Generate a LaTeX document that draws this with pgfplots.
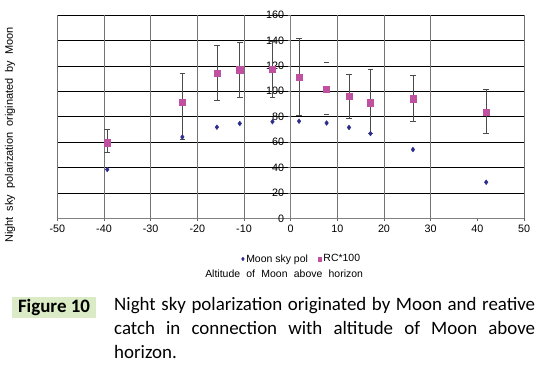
\documentclass[border=0pt]{standalone}
\usepackage{fontspec}
\setmainfont{Liberation Sans}
\newfontfamily\calibri{Carlito}
\usepackage{pgfplots}
\usepackage{pgfplotstable}
\pgfplotsset{compat=1.18}
\definecolor{moonblue}{RGB}{43,45,140}
\definecolor{rcpink}{RGB}{192,80,160}
\definecolor{figgreen}{RGB}{218,235,198}
\newcommand\wsp{\hspace{0.6em}}
\newcommand\wsy{\hspace{0.55em}}

\pgfplotstableread{
x y
-39.3 38.4
-23.2 64.0
-15.8 71.7
-10.9 74.6
-3.9 76.0
1.8 76.4
7.7 75.0
12.5 71.5
17.1 66.7
26.2 54.1
41.9 28.4
}\moontab

\pgfplotstableread{
x y ep em
-39.3 59.5 10.5 7.9
-23.2 91.4 22.4 29.1
-15.8 114.4 21.8 21.4
-10.9 117.0 21.5 21.5
-3.9 117.3 21.7 22.4
1.8 111.2 30.2 29.9
12.5 96.0 17.6 17.0
17.1 91.0 26.3 24.1
26.2 94.1 18.1 17.8
41.9 83.4 18.1 16.5
}\rctab

\pgfplotstableread{
x y ep em
7.7 101.8 20.7 20.0
}\rctabb

\begin{document}
\begin{tikzpicture}[x=1bp,y=1bp]
\useasboundingbox (0,0) rectangle (549,367);
\begin{axis}[
  at={(57.3bp,148.7bp)}, anchor=south west,
  scale only axis, width=466.7bp, height=203.3bp,
  xmin=-50, xmax=50, ymin=0, ymax=160,
  axis x line=bottom, axis y line=middle,
  axis line style={-, black!50, line width=0.6bp},
  hide obscured x ticks=false, hide obscured y ticks=false,
  xtick={-50,-40,...,50}, ytick={0,20,...,160},
  tick align=outside, major tick length=3bp,
  tick style={black!60, line width=0.6bp},
  ymajorgrids,
  major grid style={black, line width=0.6bp},
  extra x ticks={-50,-40,-30,-20,-10,10,20,30,50},
  extra x tick labels={},
  extra x tick style={grid=major, major grid style={black!55, line width=0.6bp}, major tick length=0pt},
  /pgf/number format/assume math mode=true,
  ticklabel style={font=\fontsize{10.8}{12}\selectfont, text=black},
  xlabel={Altitude\wsp of\wsp Moon\wsp above\wsp horizon},
  xlabel style={at={(axis description cs:0.486,-0.274)}, anchor=center, font=\fontsize{10.5}{12}\selectfont},
  ylabel={Night\wsy sky\wsy polarization\wsy originated\wsy by\wsy Moon},
  ylabel style={at={(axis description cs:-0.101,0.41)}, anchor=center, rotate=90, font=\fontsize{11}{12}\selectfont},
  legend style={at={(0.524,-0.2)}, anchor=center, draw=none, fill=none,
    font=\fontsize{10.5}{12}\selectfont, legend columns=2,
    /tikz/every even column/.append style={column sep=8bp}},
  legend cell align=left,
  legend image post style={mark size=1.8bp},
  clip=false,
]
\addplot[only marks, mark=diamond*, mark size=2.4bp, color=moonblue]
  table[x=x,y=y]{\moontab};
\addlegendentry{Moon sky pol}
\addplot[only marks, mark=square*, mark size=3.1bp, color=rcpink,
  error bars/.cd, y dir=both, y explicit,
  error bar style={black!70, line width=0.6bp},
  error mark options={rotate=90, mark size=2.8bp, black!70, line width=0.6bp}]
  table[x=x,y=y,y error plus=ep,y error minus=em]{\rctab};
\addlegendentry{RC*100}
\addplot[only marks, mark=square*, mark size=3.1bp, color=rcpink, forget plot,
  error bars/.cd, y dir=both, y explicit,
  error bar style={black!70, draw opacity=0},
  error mark options={rotate=90, mark size=2.8bp, black!70, draw opacity=1, line width=0.6bp}]
  table[x=x,y=y,y error plus=ep,y error minus=em]{\rctabb};
\end{axis}
\node[fill=figgreen, minimum width=83.4bp, minimum height=21.6bp, inner sep=0,
  font=\calibri\bfseries\fontsize{19}{22}\selectfont] at (54,59.5) {Figure 10};
\node[anchor=north west, inner sep=0, text width=421bp, align=justify,
  font=\calibri\fontsize{19}{24}\selectfont] at (114,70)
  {Night sky polarization originated by Moon and reative\linebreak catch in connection with altitude of Moon above\linebreak horizon.};
\end{tikzpicture}
\end{document}
